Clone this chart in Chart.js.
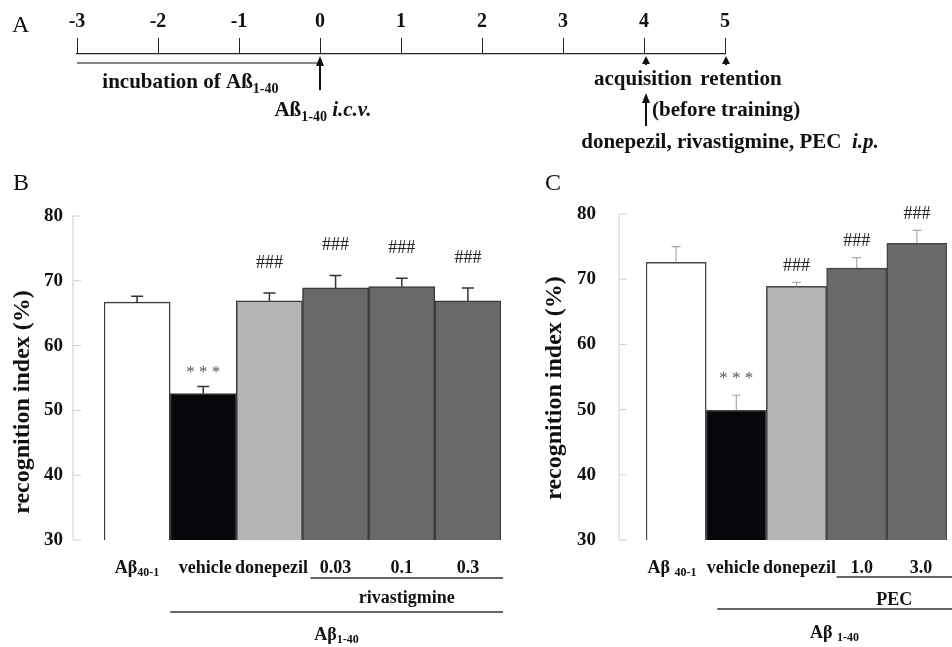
<!DOCTYPE html>
<html>
<head>
<meta charset="utf-8">
<script src="https://cdn.jsdelivr.net/npm/chart.js@4.4.1/dist/chart.umd.min.js"></script>
<style>
  body { margin: 0; background: #fff; }
  #wrap { position: relative; width: 952px; height: 647px; overflow: hidden; }
  canvas { position: absolute; }
  #panelA { left: 0px; top: 0px; }
  #panelB { left: 0px; top: 160px; }
  #panelC { left: 530px; top: 160px; }
</style>
</head>
<body>
<div id="wrap">
  <canvas id="panelA" width="952" height="160"></canvas>
  <canvas id="panelB" width="530" height="487"></canvas>
  <canvas id="panelC" width="422" height="487"></canvas>
</div>
<script>
// ---- data ----
const days = [-3, -2, -1, 0, 1, 2, 3, 4, 5];
const incubationSpan = [-3, 0];
const icvDay = 0;
const acquisitionDay = 4;
const retentionDay = 5;

const yTicks = [30, 40, 50, 60, 70, 80];

const bLabels = ['Aβ_40-1', 'vehicle', 'donepezil', '0.03', '0.1', '0.3'];
const bMeans = [66.7, 52.6, 66.9, 68.9, 69.1, 66.9];
const bSem = [0.9, 1.1, 1.2, 1.9, 1.3, 2.0];
const bSig = ['', '***', '###', '###', '###', '###'];
const bGroups = [
  { from: 3, to: 5, label: 'rivastigmine' },
  { from: 1, to: 5, label: 'Aβ_1-40' }
];

const cLabels = ['Aβ _40-1', 'vehicle', 'donepezil', '1.0', '3.0'];
const cMeans = [72.6, 49.9, 68.9, 71.7, 75.5];
const cSem = [2.4, 2.3, 0.6, 1.6, 2.0];
const cSig = ['', '***', '###', '###', '###'];
const cGroups = [
  { from: 3, to: 4, label: 'PEC' },
  { from: 1, to: 4, label: 'Aβ _1-40' }
];

const barColors = ['#ffffff', '#05070b', '#b4b5b7', '#68696b', '#68696b', '#68696b'];

// ---- helpers ----
const SERIF = '"Liberation Serif", "Times New Roman", serif';
Chart.defaults.font.family = SERIF;

// draw a list of [text, font, dy] pieces as one line
function rich(ctx, parts, x, y, align) {
  let w = 0;
  parts.forEach(p => { ctx.font = p[1]; w += ctx.measureText(p[0]).width; });
  let cx = align === 'center' ? x - w / 2 : align === 'right' ? x - w : x;
  ctx.textAlign = 'left';
  ctx.textBaseline = 'middle';
  parts.forEach(p => {
    ctx.font = p[1];
    ctx.fillText(p[0], cx, y + (p[2] || 0));
    cx += ctx.measureText(p[0]).width;
  });
}

// 'Aβ_40-1' -> main text + subscript
function labelParts(s, size) {
  const [main, sub] = s.split('_');
  const parts = [[main, 'bold ' + size + 'px ' + SERIF, 0]];
  if (sub) parts.push([sub, 'bold ' + Math.round(size * 0.68) + 'px ' + SERIF, size * 0.3]);
  return parts;
}

function arrow(ctx, x, yTail, yTip, headW, headL) {
  ctx.beginPath();
  ctx.moveTo(x, yTail);
  ctx.lineTo(x, yTip + headL - 1);
  ctx.stroke();
  ctx.beginPath();
  ctx.moveTo(x, yTip);
  ctx.lineTo(x - headW / 2, yTip + headL);
  ctx.lineTo(x + headW / 2, yTip + headL);
  ctx.closePath();
  ctx.fill();
}

// ---- panel A : timeline ----
const timelinePlugin = {
  id: 'timeline',
  afterDraw(chart) {
    const ctx = chart.ctx;
    const x = chart.scales.x;
    const a = chart.chartArea;
    const y0 = a.top;
    const b21 = 'bold 21px ' + SERIF;
    const s14 = 'bold 14px ' + SERIF;
    const it21 = 'italic bold 21px ' + SERIF;
    ctx.save();
    ctx.fillStyle = '#111';
    ctx.strokeStyle = '#111';

    ctx.font = '24px ' + SERIF;
    ctx.textAlign = 'left';
    ctx.textBaseline = 'middle';
    ctx.fillText('A', 12, 26);

    // incubation line
    ctx.lineWidth = 1.2;
    ctx.beginPath();
    ctx.moveTo(x.getPixelForValue(incubationSpan[0]), y0 + 9);
    ctx.lineTo(x.getPixelForValue(incubationSpan[1]), y0 + 9);
    ctx.stroke();

    ctx.lineWidth = 2;
    arrow(ctx, x.getPixelForValue(icvDay), y0 + 36, y0 + 2, 8, 10);
    arrow(ctx, x.getPixelForValue(acquisitionDay) + 2, y0 + 11, y0 + 2, 8, 8);
    arrow(ctx, x.getPixelForValue(retentionDay) + 1, y0 + 11, y0 + 2, 8, 8);
    arrow(ctx, x.getPixelForValue(acquisitionDay) + 2, y0 + 72, y0 + 39, 8, 10);

    rich(ctx, [['incubation of Aß', b21, 0], ['1-40', s14, 6]], x.getPixelForValue(-1.6), y0 + 29, 'center');
    rich(ctx, [['Aß', b21, 0], ['1-40', s14, 6], [' ', b21, 0], ['i.c.v.', it21, 0]], x.getPixelForValue(icvDay) + 3, y0 + 57, 'center');
    rich(ctx, [['acquisition', b21, 0]], x.getPixelForValue(acquisitionDay) - 1, y0 + 26, 'center');
    rich(ctx, [['retention', b21, 0]], x.getPixelForValue(retentionDay) + 16, y0 + 26, 'center');
    rich(ctx, [['(before training)', b21, 0]], x.getPixelForValue(acquisitionDay) + 8, y0 + 57, 'left');
    rich(ctx, [['donepezil, rivastigmine, PEC  ', b21, 0], ['i.p.', it21, 0]], x.getPixelForValue(retentionDay) + 5, y0 + 89, 'center');
    ctx.restore();
  }
};

new Chart(document.getElementById('panelA'), {
  type: 'scatter',
  data: { datasets: [{ data: [] }] },
  options: {
    responsive: false,
    animation: false,
    layout: { padding: { left: 77, right: 227, top: 0, bottom: 0 } },
    plugins: { legend: { display: false }, tooltip: { enabled: false } },
    scales: {
      x: {
        type: 'linear',
        position: 'top',
        min: days[0],
        max: days[days.length - 1],
        afterBuildTicks: s => { s.ticks = days.map(v => ({ value: v })); },
        afterFit: s => { s.height = 54; },
        ticks: {
          color: '#111',
          padding: 4,
          maxRotation: 0,
          autoSkip: false,
          font: { size: 20, weight: 'bold' },
          callback: v => String(v)
        },
        grid: { drawOnChartArea: false, drawTicks: true, tickLength: 16, color: '#222', lineWidth: 1 },
        border: { display: true, color: '#222', width: 1.2 }
      },
      y: { display: false, min: 0, max: 1 }
    }
  },
  plugins: [timelinePlugin]
});

// ---- panels B and C : bar charts ----
const panelPlugin = {
  id: 'panel',
  afterDatasetsDraw(chart, args, o) {
    const ctx = chart.ctx;
    const x = chart.scales.x;
    const y = chart.scales.y;
    const a = chart.chartArea;
    const meta = chart.getDatasetMeta(0);
    ctx.save();

    // panel letter
    ctx.fillStyle = '#111';
    ctx.font = '24px ' + SERIF;
    ctx.textAlign = 'left';
    ctx.textBaseline = 'middle';
    ctx.fillText(o.letter, o.letterX, 24);

    // y axis line with inward ticks
    const ax = a.left - o.axisGap;
    ctx.strokeStyle = '#cfcfcf';
    ctx.lineWidth = 1;
    ctx.beginPath();
    ctx.moveTo(ax, y.getPixelForValue(y.max));
    ctx.lineTo(ax, y.getPixelForValue(y.min));
    y.ticks.forEach(t => {
      const py = y.getPixelForValue(t.value);
      ctx.moveTo(ax, py);
      ctx.lineTo(ax + 8, py);
    });
    ctx.stroke();

    // y title
    ctx.save();
    ctx.translate(o.titleX, o.titleY);
    ctx.rotate(-Math.PI / 2);
    ctx.fillStyle = '#111';
    ctx.font = 'bold 24px ' + SERIF;
    ctx.textAlign = 'center';
    ctx.textBaseline = 'middle';
    ctx.fillText('recognition index (%)', 0, 0);
    ctx.restore();

    // error bars (upper half only) and significance marks
    o.means.forEach((m, i) => {
      const bar = meta.data[i];
      const top = y.getPixelForValue(m);
      const et = y.getPixelForValue(m + o.sem[i]);
      ctx.strokeStyle = o.errColor;
      ctx.lineWidth = o.errWidth;
      ctx.beginPath();
      ctx.moveTo(bar.x, top);
      ctx.lineTo(bar.x, et);
      ctx.moveTo(bar.x - o.capW / 2, et);
      ctx.lineTo(bar.x + o.capW / 2, et);
      ctx.stroke();
      const s = o.sig[i];
      if (s) {
        ctx.textAlign = 'center';
        ctx.textBaseline = 'middle';
        if (s === '***') {
          ctx.fillStyle = '#555';
          ctx.font = '17px ' + SERIF;
          ctx.fillText('* * *', bar.x, et - o.starGap);
        } else {
          ctx.fillStyle = '#222';
          ctx.font = '18px ' + SERIF;
          ctx.fillText(s, bar.x, et - o.hashGap);
        }
      }
    });

    // category labels
    ctx.fillStyle = '#111';
    o.labels.forEach((l, i) => {
      rich(ctx, labelParts(l, 18), x.getPixelForValue(i) + (o.labelShift[i] || 0), a.bottom + 28, 'center');
    });

    // group lines and labels
    ctx.strokeStyle = '#333';
    ctx.lineWidth = 1.5;
    o.groups.forEach((g, k) => {
      const first = meta.data[g.from];
      const x1 = first.x - first.width / 2 + o.inset[k];
      const x2 = o.lineEnd === 'edge' ? chart.width : a.right + 2;
      const ly = a.bottom + o.lineY[k];
      ctx.beginPath();
      ctx.moveTo(x1, ly);
      ctx.lineTo(x2, ly);
      ctx.stroke();
      rich(ctx, labelParts(g.label, 18), (x1 + x2) / 2, a.bottom + o.textY[k], 'center');
    });
    ctx.restore();
  }
};

function barChart(id, labels, means, sem, sig, groups, p) {
  return new Chart(document.getElementById(id), {
    type: 'bar',
    data: {
      labels: labels,
      datasets: [{
        data: means,
        backgroundColor: barColors.slice(0, means.length),
        borderColor: p.barBorder,
        borderWidth: 1.5,
        borderSkipped: false,
        barPercentage: 1,
        categoryPercentage: 1
      }]
    },
    options: {
      responsive: false,
      animation: false,
      layout: { padding: { left: 0, right: p.right, top: p.top, bottom: 107 } },
      plugins: {
        legend: { display: false },
        tooltip: { enabled: false },
        panel: Object.assign({ labels, means, sem, sig, groups }, p)
      },
      scales: {
        x: { display: false },
        y: {
          min: yTicks[0],
          max: yTicks[yTicks.length - 1],
          afterBuildTicks: s => { s.ticks = yTicks.map(v => ({ value: v })); },
          afterFit: s => { s.width = p.left; },
          ticks: { padding: p.tickPad, color: '#111', font: { size: 19, weight: 'bold' } },
          grid: { display: false },
          border: { display: false }
        }
      }
    },
    plugins: [panelPlugin]
  });
}

barChart('panelB', bLabels, bMeans, bSem, bSig, bGroups, {
  letter: 'B', letterX: 13,
  left: 104, right: 29, top: 56, tickPad: 33, axisGap: 31,
  titleX: 23, titleY: 242,
  barBorder: '#3a3a3a', errColor: '#333', errWidth: 1.5, capW: 12,
  starGap: 14, hashGap: 30,
  labelShift: [0, 2, 2, 0, 0, 0],
  inset: [8, 0], lineY: [38, 72], textY: [58, 95], lineEnd: 'chart'
});

barChart('panelC', cLabels, cMeans, cSem, cSig, cGroups, {
  letter: 'C', letterX: 15,
  left: 116, right: 5, top: 54, tickPad: 42, axisGap: 27,
  titleX: 25, titleY: 228,
  barBorder: '#444', errColor: '#aaa', errWidth: 1.2, capW: 9,
  starGap: 17, hashGap: 16,
  labelShift: [-4, -3, 3, 5, 4],
  inset: [10, 11], lineY: [37, 69], textY: [60, 93], lineEnd: 'edge'
});
</script>
</body>
</html>
